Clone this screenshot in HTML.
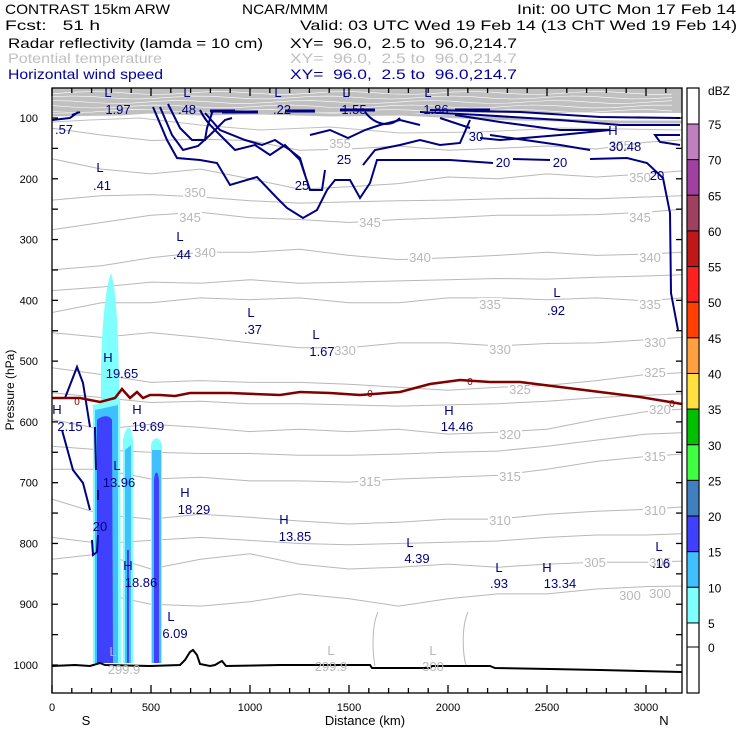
<!DOCTYPE html>
<html><head><meta charset="utf-8"><style>
body{margin:0;background:#fff}
svg{display:block;font-family:"Liberation Sans",sans-serif}
</style></head><body>
<svg id="s" width="740" height="740" viewBox="0 0 740 740">
<g font-size="14">
<text x="5" y="14" textLength="165" lengthAdjust="spacingAndGlyphs">CONTRAST 15km ARW</text>
<text x="242" y="14" textLength="86" lengthAdjust="spacingAndGlyphs">NCAR/MMM</text>
<text x="517" y="14" textLength="219" lengthAdjust="spacingAndGlyphs">Init: 00 UTC Mon 17 Feb 14</text>
<text x="5" y="30" textLength="95" lengthAdjust="spacingAndGlyphs">Fcst:&#160;&#160;&#160;51 h</text>
<text x="300" y="30" textLength="437" lengthAdjust="spacingAndGlyphs">Valid: 03 UTC Wed 19 Feb 14 (13 ChT Wed 19 Feb 14)</text>
<text x="8" y="48" textLength="255" lengthAdjust="spacingAndGlyphs">Radar reflectivity (lamda = 10 cm)</text>
<text x="290" y="48" textLength="227" lengthAdjust="spacingAndGlyphs">XY=&#160;&#160;96.0,&#160;&#160;2.5 to&#160;&#160;96.0,214.7</text>
<text x="8" y="63" fill="#c0c0c0" textLength="154" lengthAdjust="spacingAndGlyphs">Potential temperature</text>
<text x="290" y="63" fill="#c0c0c0" textLength="227" lengthAdjust="spacingAndGlyphs">XY=&#160;&#160;96.0,&#160;&#160;2.5 to&#160;&#160;96.0,214.7</text>
<text x="8" y="79" fill="#0000a0" textLength="155" lengthAdjust="spacingAndGlyphs">Horizontal wind speed</text>
<text x="290" y="79" fill="#0000a0" textLength="227" lengthAdjust="spacingAndGlyphs">XY=&#160;&#160;96.0,&#160;&#160;2.5 to&#160;&#160;96.0,214.7</text>
</g>
<g id="plot"></g>
</svg>
<script>
const NS="http://www.w3.org/2000/svg";
const plot=document.getElementById('plot');
// ---- data ----
const xTicks=[0,500,1000,1500,2000,2500,3000];
const yTicks=[100,200,300,400,500,600,700,800,900,1000];
const cbLevels=[75,70,65,60,55,50,45,40,35,30,25,20,15,10,5];
const cbColors=["#c080c0","#a040a0","#a04060","#c01818","#ff2020","#ff4000","#ffa040","#ffe040","#00c000","#40ff40","#4080c0","#4040ff","#40c0ff","#80ffff"];
const thetaLevels=[355,350,345,340,335,330,325,320,315,310,305,300];
const thetaDist=[0,250,500,750,1000,1250,1500,1750,2000,2250,2500,2750,3000,3180];
const th355=[117,128,137,135,137,153,151,146,153,150,146,151,140,136];
const th350=[167,184,192,184,200,217,213,208,197,200,192,197,192,187];
const th345=[284,272,260,255,264,267,272,267,264,260,260,259,255,250];
const th340=[350,343,330,321,321,316,326,333,330,326,321,326,324,321];
const th335=[420,404,404,396,399,396,404,404,396,396,399,396,401,396];
const th330=[453,461,453,461,470,478,478,470,470,475,471,470,465,461];
const th325=[511,522,535,532,535,535,538,543,548,543,540,532,522,519];
const th320=[596,612,604,609,616,612,616,612,620,617,612,596,583,579];
const th315=[678,678,694,691,697,697,699,694,691,688,678,665,657,653];
const th310=[727,752,760,752,757,763,768,765,760,760,752,747,744,740];
const th305=[826,817,842,826,817,834,842,839,834,839,834,831,831,829];
const th300=[null,883,900,903,896,883,891,903,891,883,883,875,871,870];
const thetaP=[th355,th350,th345,th340,th335,th330,th325,th320,th315,th310,th305,th300];
// ---- axes ----
const X0=52,X1=682,Y0=88,Y1=693;
const xs=km=>X0+km*0.198;
const ys=p=>118+(p-100)*0.6078;
function el(tag,attrs,parent){const e=document.createElementNS(NS,tag);for(const k in attrs)e.setAttribute(k,attrs[k]);(parent||plot).appendChild(e);return e;}
function txt(x,y,s,fill,size,anchor,parent){const t=el('text',{x:x,y:y,fill:fill||'#000','font-size':size||13,'text-anchor':anchor||'start'},parent);t.textContent=s;return t;}
// top band of dense theta lines
const band=el('g',{});


el('rect',{x:X0,y:Y0,width:X1-X0,height:25,fill:'#c0c0c0'},band);
for(let i=0;i<5;i++){let d='';for(let x=X0;x<=X1;x+=20){const y=Y0+5+i*4.5+Math.sin(x*0.05+i)*1.5;d+=(x==X0?'M':'L')+x+','+y.toFixed(1);}el('path',{d:d,stroke:'#fff','stroke-width':0.6,fill:'none'},band);}
el('path',{d:'M52,115 L120,114 L150,112 L200,114 L260,113 L330,115 L400,114 L480,118 L560,120 L620,122 L682,122',stroke:'#c0c0c0','stroke-width':3,fill:'none'},band);
el('path',{d:'M52,122 L90,120 L140,118 L200,125 L260,130 L330,127 L400,133 L480,132 L560,128 L682,130',stroke:'#c0c0c0',fill:'none'},band);
// theta contours
const tg=el('g',{});


thetaP.forEach((arr,i)=>{let d='';let first=true;arr.forEach((p,j)=>{if(p==null)return;d+=(first?'M':'L')+xs(thetaDist[j]).toFixed(1)+','+ys(p).toFixed(1);first=false;});
 const pth=el('path',{d:d,stroke:'#b8b8b8','stroke-width':1,fill:'none'},tg);
 
 
});
[[0,[235,228,226,230,236,240,238,236,235,233,232,233,230,228]],[0,[384,378,370,372,366,372,370,368,366,364,365,362,360,358]],[0,[552,560,568,566,570,570,572,574,572,570,566,560,556,554]],[0,[640,646,650,652,652,655,655,653,650,648,640,630,620,618]],[0,[790,800,795,790,795,800,802,800,798,796,790,786,786,784]]].forEach(a=>{let d='';a[1].forEach((p,j)=>{d+=(j?'L':'M')+xs(thetaDist[j]).toFixed(1)+','+ys(p).toFixed(1);});el('path',{d:d,stroke:'#b8b8b8','stroke-width':1,fill:'none'},tg);});
el('path',{d:'M375,666 C372,650 372,625 378,612',stroke:'#b8b8b8',fill:'none'},tg);
el('path',{d:'M466,666 C462,650 462,625 468,612',stroke:'#b8b8b8',fill:'none'},tg);
const thLab=[[340,148,'355'],[620,150,'355'],[195,197,'350'],[640,182,'350'],[190,222,'345'],[370,227,'345'],[640,222,'345'],[205,257,'340'],[420,262,'340'],[650,262,'340'],[490,309,'335'],[650,309,'335'],[345,355,'330'],[500,354,'330'],[655,347,'330'],[520,394,'325'],[655,377,'325'],[510,439,'320'],[660,414,'320'],[370,486,'315'],[510,481,'315'],[655,461,'315'],[500,525,'310'],[655,515,'310'],[595,567,'305'],[660,567,'305'],[630,600,'300'],[660,598,'300']];
thLab.forEach(l=>{el('rect',{x:l[0]-12,y:l[1]-11,width:24,height:13,fill:'#fff'},tg);txt(l[0],l[1],l[2],'#b8b8b8',13,'middle',tg);});
// reflectivity shading
const rg=el('g',{});


const cols=[
 ['#80ffff','M101,400 C100,350 104,290 111,273 C117,290 119,350 119,400 Z'],
 ['#80ffff','M93,663 L93,405 L120,398 L121,663 Z'],
 ['#40c0ff','M95,663 L95,410 L118,405 L118,663 Z'],
 ['#4040ff','M97,663 L97,420 C102,415 110,415 112,420 L113,663 Z'],
 ['#80ffff','M123,663 L123,440 C126,425 131,422 133,440 L133,663 Z'],
 ['#40c0ff','M125,663 L125,450 L131,445 L131,663 Z'],
 ['#4040ff','M127,663 L127,550 L129,550 L129,663 Z'],
 ['#80ffff','M151,663 L151,445 C153,436 160,436 162,445 L162,663 Z'],
 ['#40c0ff','M152,663 L152,450 L161,450 L161,663 Z'],
 ['#4040ff','M154,663 L154,480 C155,470 158,470 159,480 L159,663 Z']];
cols.forEach(c=>el('path',{d:c[1],fill:c[0]},rg));
// wind contours
const wg=el('g',{fill:'none',stroke:'#000080','stroke-width':2});


const wpaths=[
'M153,107 L167,140 L177,158 L200,160 L217,163 L230,185 L257,177 L277,198 L287,208 L303,218 L317,210 L327,190 L335,180 L350,180 L360,198 L370,183 L377,160 L417,160 L450,160 L493,163 M513,159 L550,160 M590,159 L627,158 L647,163 L663,178 L670,213 L671,293 L678,330',
'M160,107 L172,135 L183,150 L198,146 L210,135 L225,120 L232,118',
'M168,104 L180,128 L192,140 L205,140 L207,128 L213,110',
'M200,110 C205,120 210,125 215,130 L235,150 L255,145 L270,155 L285,145 L300,160 L310,190 L322,190 L325,170 M363,165 L375,150 L400,145 L420,140 L440,145 L460,143 L470,120',
'M205,113 L220,130 L245,140 L262,145 L275,140 L290,150 L300,158 L305,175',
'M310,135 L330,130 L348,138 L365,130 L380,125 L400,120 L420,125',
'M365,112 C375,125 390,128 400,118',
'M440,118 L470,128 M490,135 L560,145 L590,150',
'M420,112 L480,115 L560,120 L620,125 L680,125',
'M430,110 L520,112 L600,117 L680,118',
'M455,115 L500,122 L560,130 L610,130 L560,135 L500,140 L480,138',
'M680,135 L655,135 L660,142 L680,145',
'M52,120 L70,118 L78,112 M72,115 L80,112',
'M90,427 L83,383 L77,367 L72,380 L65,398 L52,398',
'M62,430 L73,470 L83,483 L90,510 M92,540 L93,555 L97,552 L98,535',
'M95,427 L96,470 M98,490 L98,500'
];
wpaths.forEach(d=>el('path',{d:d},wg));
['M210,111 L235,111','M222,112 L258,112','M285,111 L315,111','M340,110 L375,110','M455,110 L490,110'].forEach(d=>el('path',{d:d,'stroke-width':3},wg));
// freezing line
const fz=el('path',{d:'M52,398 L80,398 L100,402 L115,398 L122,389 L130,398 L137,392 L143,398 L150,395 L160,395 L175,396 L190,393 L230,393 L280,395 L300,392 L330,393 L360,395 L400,392 L430,384 L460,380 L490,382 L520,382 L560,387 L600,392 L640,397 L682,404',stroke:'#800000','stroke-width':2.5,fill:'none'});


[[77,405],[370,397],[470,385],[672,407]].forEach(p=>txt(p[0],p[1],'0','#800000',10,'middle'));
// terrain
const ter=el('path',{d:'M52,666 L75,665 L90,666 L100,663 L105,665 L150,666 L180,665 L185,660 L190,652 L193,650 L197,655 L200,664 L210,666 L215,665 L220,662 L222,661 L226,666 L280,665 L370,665 L372,668 L430,668 L432,666 L490,666 L495,668 L550,669 L600,670 L640,671 L682,672',stroke:'#000','stroke-width':2,fill:'none'});


// H/L labels
const navy='#000080';
const hl=[[108,97,'L'],[118,114,'1.97'],[187,97,'L'],[187,114,'.48'],[278,97,'L'],[282,114,'.22'],[346,97,'L'],[354,114,'1.55'],[428,97,'L'],[436,114,'1.86'],[64,134,'.57'],[613,135,'H'],[625,151,'30.48'],[100,172,'L'],[102,190,'.41'],[180,241,'L'],[182,259,'.44'],[251,317,'L'],[253,334,'.37'],[316,339,'L'],[322,356,'1.67'],[557,297,'L'],[556,315,'.92'],[108,362,'H'],[122,378,'19.65'],[57,414,'H'],[70,431,'2.15'],[137,414,'H'],[148,431,'19.69'],[117,470,'L'],[119,487,'13.96'],[185,497,'H'],[194,514,'18.29'],[284,524,'H'],[295,541,'13.85'],[449,415,'H'],[457,431,'14.46'],[410,547,'L'],[417,563,'4.39'],[499,572,'L'],[499,588,'.93'],[547,572,'H'],[560,588,'13.34'],[659,551,'L'],[661,568,'.16'],[128,570,'H'],[141,587,'18.86'],[171,621,'L'],[175,638,'6.09'],
[476,141,'30'],[344,164,'25'],[302,190,'25'],[503,167,'20'],[560,167,'20'],[657,180,'20'],[100,531,'20']];
hl.forEach(l=>txt(l[0],l[1],l[2],navy,13,'middle'));
[[113,656,'L'],[124,674,'299.9'],[331,655,'L'],[331,671,'299.9'],[433,655,'L'],[433,671,'300']].forEach(l=>txt(l[0],l[1],l[2],'#b8b8b8',13,'middle'));
// frame & ticks
const ax=el('g',{stroke:'#000','stroke-width':1.3,fill:'none'});


el('rect',{x:X0,y:Y0,width:X1-X0,height:Y1-Y0},ax);
for(let km=0;km<=3180;km+=100){const x=xs(km),l=km%500==0?8:5;el('line',{x1:x,y1:Y1,x2:x,y2:Y1-l},ax);el('line',{x1:x,y1:Y0,x2:x,y2:Y0+l},ax);}
for(let p=100;p<=1000;p+=50){const y=ys(p);el('line',{x1:X0,y1:y,x2:X0+6,y2:y},ax);el('line',{x1:X1,y1:y,x2:X1-6,y2:y},ax);}
xTicks.forEach(v=>{const t=txt(xs(v),711,String(v),'#000',11,'middle');});
yTicks.forEach(v=>{const t=txt(38,ys(v)+4,String(v),'#000',11,'end');});
const xt=txt(365,725,'Distance (km)','#000',13,'middle');
txt(86,725,'S','#000',13,'middle');txt(664,725,'N','#000',13,'middle');
const yt=txt(0,0,'Pressure (hPa)','#000',12,'middle');yt.setAttribute('transform','translate(14,390) rotate(-90)');
// colorbar
const cb=el('g',{});


const cbTop=124,cbStep=35.64;
el('rect',{x:687,y:Y0,width:12,height:Y1-Y0,fill:'#fff',stroke:'#000','stroke-width':1.2},cb);
cbColors.forEach((c,i)=>el('rect',{x:687,y:cbTop+i*cbStep,width:12,height:cbStep,fill:c,stroke:'#000','stroke-width':1},cb));
cbLevels.forEach((v,i)=>txt(708,cbTop+i*cbStep+5,String(v),'#000',12,'start',cb));
el('line',{x1:687,y1:647,x2:699,y2:647,stroke:'#000'},cb);
txt(708,652,'0','#000',12,'start',cb);
txt(708,95,'dBZ','#000',12,'start',cb);
</script>
</body></html>
